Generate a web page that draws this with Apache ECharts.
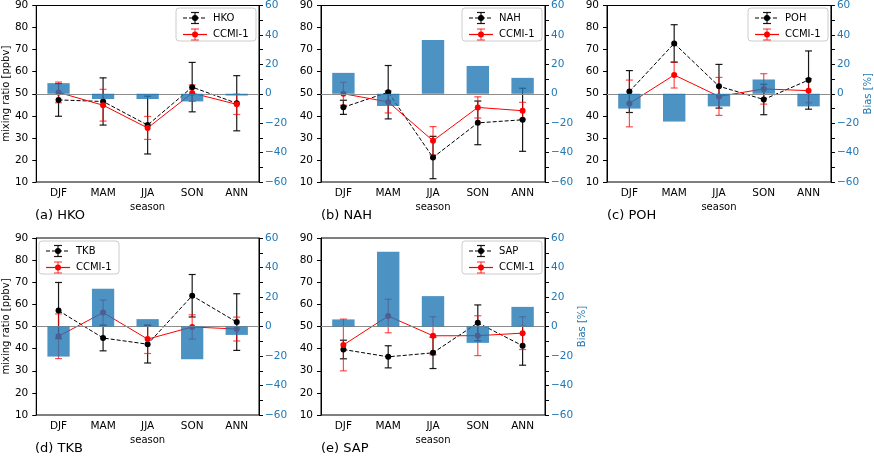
<!DOCTYPE html>
<html><head><meta charset="utf-8">
<script src="https://cdn.jsdelivr.net/npm/echarts@6/dist/echarts.min.js"></script>
<style>html,body{margin:0;padding:0;background:#fff}#c{width:874px;height:457px}</style>
</head><body><div id="c"></div>
<script>
const seasons = ['DJF', 'MAM', 'JJA', 'SON', 'ANN'];
const stations = ['HKO', 'NAH', 'POH', 'TKB', 'SAP'];
const panelLabels = ['(a) HKO', '(b) NAH', '(c) POH', '(d) TKB', '(e) SAP'];
const modelName = 'CCMI-1';
const leftTicks = [10, 90, 10];   // min, max, interval
const rightTicks = [-60, 60, 20];

// observed mean / std, model mean / std, bias [%]
const obsHKO = [47.2, 46.5, 35.8, 53.0, 45.7];
const obsErrHKO = [7.4, 10.7, 13.1, 11.2, 12.5];
const modHKO = [50.6, 44.8, 34.5, 50.3, 45.2];
const modErrHKO = [4.7, 7.2, 5.2, 3.7, 4.6];
const biasHKO = [7.2, -3.6, -3.6, -5.2, -1.2];

const obsNAH = [43.85, 50.7, 21.1, 36.8, 38.2];
const obsErrNAH = [3.2, 12.1, 9.6, 9.9, 14.3];
const modNAH = [50.0, 46.3, 28.7, 43.8, 42.3];
const modErrNAH = [5.2, 5.0, 6.4, 4.8, 3.8];
const biasNAH = [14.2, -8.3, 36.5, 18.9, 10.8];

const obsPOH = [51.0, 72.8, 53.4, 47.4, 56.2];
const obsErrPOH = [9.5, 8.5, 9.9, 6.9, 13.2];
const modPOH = [45.6, 58.5, 48.8, 52.2, 51.4];
const modErrPOH = [10.6, 5.9, 8.6, 6.9, 5.5];
const biasPOH = [-10.1, -18.9, -8.6, 9.7, -8.6];

const obsTKB = [57.2, 44.8, 42.0, 63.9, 52.0];
const obsErrTKB = [12.7, 5.8, 8.5, 9.6, 12.8];
const modTKB = [45.6, 56.3, 44.3, 49.8, 48.85];
const modErrTKB = [10.1, 5.7, 6.5, 5.5, 5.4];
const biasTKB = [-20.4, 25.6, 5.0, -22.2, -5.7];

const obsSAP = [39.6, 36.3, 38.1, 51.65, 41.3];
const obsErrSAP = [4.2, 5.0, 7.1, 8.1, 8.8];
const modSAP = [41.65, 54.75, 45.8, 45.85, 47.0];
const modErrSAP = [11.7, 7.6, 8.6, 9.0, 7.4];
const biasSAP = [4.8, 50.7, 20.6, -11.1, 13.3];

const obsAll = [obsHKO, obsNAH, obsPOH, obsTKB, obsSAP];
const obsErrAll = [obsErrHKO, obsErrNAH, obsErrPOH, obsErrTKB, obsErrSAP];
const modAll = [modHKO, modNAH, modPOH, modTKB, modSAP];
const modErrAll = [modErrHKO, modErrNAH, modErrPOH, modErrTKB, modErrSAP];
const biasAll = [biasHKO, biasNAH, biasPOH, biasTKB, biasSAP];

const FONT = 'DejaVu Sans';
const BLUE = '#1f77b4';
const grids = [
  {left: 35, top: 5, width: 224, height: 177},
  {left: 321, top: 5, width: 224, height: 177},
  {left: 607, top: 5, width: 224, height: 177},
  {left: 35, top: 238, width: 224, height: 177},
  {left: 321, top: 238, width: 224, height: 177}
];
const legendLeft = [false, false, false, true, false];
const showLeftName = [true, false, false, true, false];
const showRightName = [false, false, true, false, true];

function errRender(color, opacity) {
  return function (params, api) {
    const x = api.value(0);
    const p1 = api.coord([x, api.value(2)]);
    const p2 = api.coord([x, api.value(1)]);
    const w = 3.5;
    const st = {stroke: color, lineWidth: 1.2, opacity: opacity};
    return {type: 'group', children: [
      {type: 'line', shape: {x1: p1[0], y1: p1[1], x2: p2[0], y2: p2[1]}, style: st},
      {type: 'line', shape: {x1: p1[0] - w, y1: p1[1], x2: p1[0] + w, y2: p1[1]}, style: st},
      {type: 'line', shape: {x1: p2[0] - w, y1: p2[1], x2: p2[0] + w, y2: p2[1]}, style: st}
    ]};
  };
}

const option = {
  animation: false,
  backgroundColor: '#fff',
  textStyle: {fontFamily: FONT},
  grid: grids.map(g => Object.assign({show: true, borderColor: '#000', borderWidth: 1, backgroundColor: 'transparent'}, g)),
  xAxis: [], yAxis: [], series: [], graphic: []
};

grids.forEach((g, i) => {
  option.xAxis.push({
    type: 'category', gridIndex: i, data: seasons, boundaryGap: true,
    name: 'season', nameLocation: 'middle', nameGap: 20,
    nameTextStyle: {fontFamily: FONT, fontSize: 10, color: '#000'},
    axisLine: {lineStyle: {color: '#000', width: 1}},
    axisTick: {alignWithLabel: true, length: 4, lineStyle: {color: '#000'}},
    axisLabel: {fontFamily: FONT, fontSize: 10.5, color: '#000', margin: 6},
    splitLine: {show: false}
  });
  option.yAxis.push({
    type: 'value', gridIndex: i, position: 'left',
    min: leftTicks[0], max: leftTicks[1], interval: leftTicks[2],
    name: showLeftName[i] ? 'mixing ratio [ppbv]' : '', nameLocation: 'middle', nameGap: 23, nameRotate: 90,
    nameTextStyle: {fontFamily: FONT, fontSize: 10, color: '#000'},
    axisLine: {show: true, lineStyle: {color: '#000', width: 1}},
    axisTick: {show: true, length: 4, lineStyle: {color: '#000'}},
    axisLabel: {fontFamily: FONT, fontSize: 10.5, color: '#000', margin: 8},
    splitLine: {show: false}
  });
  option.yAxis.push({
    type: 'value', gridIndex: i, position: 'right',
    min: rightTicks[0], max: rightTicks[1], interval: rightTicks[2],
    name: showRightName[i] ? 'Bias [%]' : '', nameLocation: 'middle', nameGap: 29, nameRotate: 90,
    nameTextStyle: {fontFamily: FONT, fontSize: 10, color: BLUE},
    axisLine: {show: true, lineStyle: {color: '#000', width: 1}},
    axisTick: {show: true, length: 4, lineStyle: {color: '#000'}},
    minorTick: {show: true, splitNumber: 2, length: 4, lineStyle: {color: '#000'}},
    axisLabel: {fontFamily: FONT, fontSize: 10.5, color: BLUE, margin: 6,
      formatter: v => (v < 0 ? '\u2212' + (-v) : String(v))},
    splitLine: {show: false}
  });
  const obs = obsAll[i], oe = obsErrAll[i], mod = modAll[i], me = modErrAll[i];
  option.series.push({
    type: 'custom', xAxisIndex: i, yAxisIndex: 2 * i, z: 2, silent: true,
    renderItem: errRender('#000', 0.9),
    encode: {x: 0, y: [1, 2]},
    data: obs.map((v, k) => [k, v - oe[k], v + oe[k]])
  });
  option.series.push({
    type: 'custom', xAxisIndex: i, yAxisIndex: 2 * i, z: 2, silent: true,
    renderItem: errRender('#ff0000', 0.7),
    encode: {x: 0, y: [1, 2]},
    data: mod.map((v, k) => [k, v - me[k], v + me[k]])
  });
  option.series.push({
    type: 'line', name: stations[i], xAxisIndex: i, yAxisIndex: 2 * i, z: 3,
    data: obs, symbol: 'circle', symbolSize: 6, showSymbol: true,
    lineStyle: {color: '#000', width: 1, type: [4, 2]},
    itemStyle: {color: '#000'}
  });
  option.series.push({
    type: 'line', name: modelName, xAxisIndex: i, yAxisIndex: 2 * i, z: 3,
    data: mod, symbol: 'circle', symbolSize: 6, showSymbol: true,
    lineStyle: {color: '#ff0000', width: 1},
    itemStyle: {color: '#ff0000'}
  });
  option.series.push({
    type: 'bar', xAxisIndex: i, yAxisIndex: 2 * i + 1, z: 5,
    data: biasAll[i], barWidth: '50%',
    itemStyle: {color: 'rgba(31,119,180,0.8)'},
    markLine: {silent: true, symbol: 'none', label: {show: false},
      lineStyle: {color: '#8c8c8c', width: 1, type: 'solid'},
      data: [{yAxis: 0}]}
  });

  // panel label
  option.graphic.push({type: 'text', left: g.left, top: g.top + 204,
    style: {text: panelLabels[i], font: '13px "DejaVu Sans"', fill: '#000'}});

  // legend box
  const bw = 80, bh = 33;
  const bx = legendLeft[i] ? g.left + 4 : g.left + g.width - 3 - bw;
  const by = g.top + 3;
  const items = [];
  items.push({type: 'rect', shape: {x: bx, y: by, width: bw, height: bh, r: 3},
    style: {fill: 'rgba(255,255,255,0.8)', stroke: '#cccccc', lineWidth: 1}});
  const rows = [
    {y: by + 10, color: '#000', dash: [4, 2], label: stations[i], op: 0.9},
    {y: by + 26.5, color: '#ff0000', dash: null, label: modelName, op: 0.7}
  ];
  rows.forEach(r => {
    const cx = bx + 19;
    items.push({type: 'line', shape: {x1: bx + 7, y1: r.y, x2: bx + 31, y2: r.y},
      style: {stroke: r.color, lineWidth: 1.2, lineDash: r.dash}});
    items.push({type: 'line', shape: {x1: cx, y1: r.y - 5.5, x2: cx, y2: r.y + 5.5},
      style: {stroke: r.color, lineWidth: 1.2, opacity: r.op}});
    items.push({type: 'line', shape: {x1: cx - 4, y1: r.y - 5.5, x2: cx + 4, y2: r.y - 5.5},
      style: {stroke: r.color, lineWidth: 1.2, opacity: r.op}});
    items.push({type: 'line', shape: {x1: cx - 4, y1: r.y + 5.5, x2: cx + 4, y2: r.y + 5.5},
      style: {stroke: r.color, lineWidth: 1.2, opacity: r.op}});
    items.push({type: 'circle', shape: {cx: cx, cy: r.y, r: 3}, style: {fill: r.color}});
    items.push({type: 'text', x: bx + 37, y: r.y, style: {text: r.label, font: '10px "DejaVu Sans"',
      fill: '#000', verticalAlign: 'middle', textVerticalAlign: 'middle'}});
  });
  option.graphic.push({type: 'group', z: 100, children: items});
});

const chart = echarts.init(document.getElementById('c'), null, {renderer: 'canvas'});
chart.setOption(option);
</script>
</body></html>
